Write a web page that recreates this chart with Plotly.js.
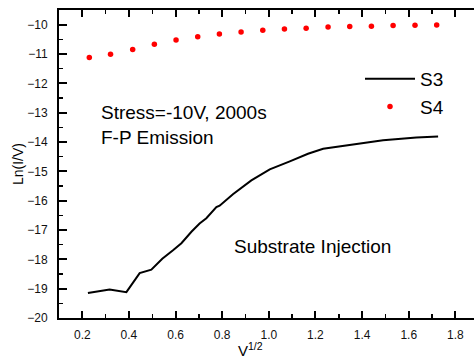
<!DOCTYPE html>
<html>
<head>
<meta charset="utf-8">
<script src="https://cdn.plot.ly/plotly-3.0.1.min.js"></script>
<style>
html,body{margin:0;padding:0;background:#fff;overflow:hidden;}
#chart{width:474px;height:358px;}
</style>
</head>
<body>
<div id="chart"></div>
<script>
// S3: solid black line
var s3X = [0.224, 0.317, 0.389, 0.446, 0.496, 0.543, 0.589, 0.625, 0.668, 0.703, 0.732, 0.775, 0.789, 0.846, 0.925, 1.004, 1.09, 1.168, 1.233, 1.347, 1.49, 1.633, 1.726];
var s3Y = [-19.15, -19.03, -19.12, -18.47, -18.35, -17.98, -17.69, -17.45, -17.06, -16.78, -16.60, -16.22, -16.17, -15.78, -15.31, -14.93, -14.66, -14.40, -14.23, -14.09, -13.94, -13.85, -13.81];
// S4: red dots
var s4X = [0.23, 0.321, 0.416, 0.509, 0.602, 0.695, 0.788, 0.881, 0.974, 1.067, 1.16, 1.254, 1.347, 1.44, 1.533, 1.627, 1.72];
var s4Y = [-11.12, -11.01, -10.85, -10.67, -10.52, -10.41, -10.32, -10.25, -10.19, -10.15, -10.12, -10.08, -10.06, -10.05, -10.03, -10.02, -10.01];
var seriesNames = ['S3', 'S4'];
var xTitle = 'V<sup>1/2</sup>';
var yTitle = 'Ln(I/V)';
var notes = ['Stress=-10V, 2000s', 'F-P Emission', 'Substrate Injection'];

var FONT = 'Liberation Sans, Arial, sans-serif';
var L = 59, R = 0, T = 10, B = 40, W = 474, H = 358;
var pw = W - L - R, ph = H - T - B;
function px(x){ return (x - L) / pw; }
function py(y){ return (H - B - y) / ph; }

var traces = [
  {x: s3X, y: s3Y, name: seriesNames[0], mode: 'lines', type: 'scatter',
   line: {color: '#000000', width: 2}},
  {x: s4X, y: s4Y, name: seriesNames[1], mode: 'markers', type: 'scatter',
   marker: {color: '#ff0000', size: 5.5, line: {width: 0}}}
];

var layout = {
  width: W, height: H,
  margin: {l: L, r: R, t: T, b: B, pad: 0},
  paper_bgcolor: '#ffffff', plot_bgcolor: '#ffffff',
  font: {family: FONT, color: '#000000', size: 12},
  showlegend: true,
  legend: {x: px(360), y: py(60), xanchor: 'left', yanchor: 'top',
           bgcolor: 'rgba(0,0,0,0)', font: {size: 19, family: FONT},
           itemwidth: 50, tracegroupgap: 0},
  xaxis: {
    range: [0.1, 1.88], showgrid: false, zeroline: false,
    showline: true, linecolor: '#000', linewidth: 2, mirror: 'ticks',
    ticks: 'inside', ticklen: 7, tickwidth: 2, tickcolor: '#000',
    dtick: 0.2, tick0: 0, tickformat: '.1f',
    minor: {dtick: 0.1, ticks: 'inside', ticklen: 4, tickwidth: 1.5, tickcolor: '#000'},
    tickfont: {size: 12, family: FONT, color: '#111'},
    ticklabelstandoff: 5
  },
  yaxis: {
    range: [-20, -9.5], showgrid: false, zeroline: false,
    showline: true, linecolor: '#000', linewidth: 2, mirror: false,
    ticks: 'inside', ticklen: 8, tickwidth: 2, tickcolor: '#000',
    dtick: 1, tick0: 0,
    minor: {dtick: 0.5, ticks: 'inside', ticklen: 4, tickwidth: 1.5, tickcolor: '#000'},
    tickfont: {size: 12, family: FONT, color: '#111'},
    ticklabelstandoff: 7,
    title: {text: yTitle, font: {size: 14, family: FONT, color: '#000'}, standoff: 0}
  },
  annotations: [
    {text: xTitle, xref: 'paper', yref: 'paper', x: px(250), y: py(349),
     xanchor: 'center', yanchor: 'middle', showarrow: false,
     font: {size: 15, family: FONT, color: '#000'}},
    {text: notes[0], xref: 'paper', yref: 'paper', x: px(99), y: py(112),
     xanchor: 'left', yanchor: 'middle', showarrow: false,
     font: {size: 19, family: FONT, color: '#000'}},
    {text: notes[1], xref: 'paper', yref: 'paper', x: px(99), y: py(137),
     xanchor: 'left', yanchor: 'middle', showarrow: false,
     font: {size: 19, family: FONT, color: '#000'}},
    {text: notes[2], xref: 'paper', yref: 'paper', x: px(232), y: py(246),
     xanchor: 'left', yanchor: 'middle', showarrow: false,
     font: {size: 19, family: FONT, color: '#000'}}
  ]
};

Plotly.newPlot('chart', traces, layout, {displayModeBar: false, staticPlot: true});
</script>
</body>
</html>
